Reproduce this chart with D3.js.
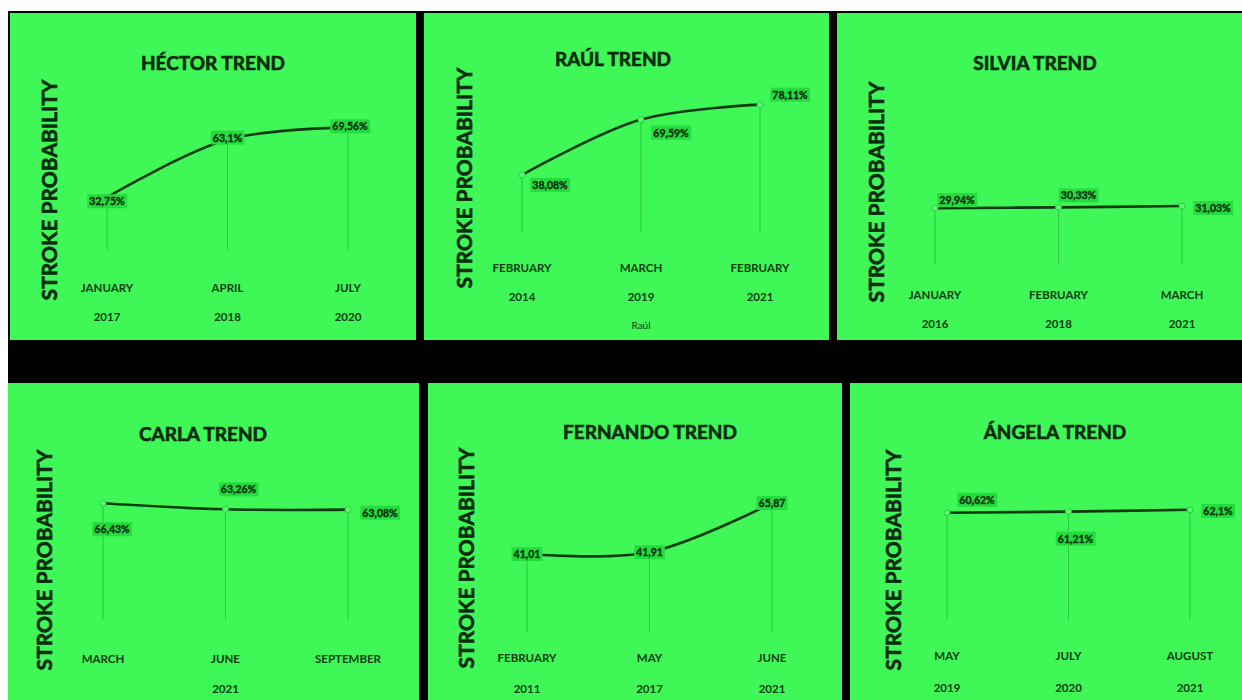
<!DOCTYPE html>
<html>
<head>
<meta charset="utf-8">
<script src="https://cdn.jsdelivr.net/npm/d3@7"></script>
<style>
  body { margin: 0; background: #fff; }
  svg { display: block; }
  .title { font-family: Lato, "Open Sans", sans-serif; font-weight: 700; font-size: 19px; fill: #082a0c; stroke: #082a0c; stroke-width: 0.6px; }
  .ytitle { font-family: Lato, "Open Sans", sans-serif; font-weight: 700; font-size: 21px; fill: #082a0c; stroke: #082a0c; stroke-width: 0.6px; }
  .tick { font-family: Lato, "Open Sans", sans-serif; font-weight: 700; font-size: 11.5px; fill: #0c3d12; }
  .val { font-family: Lato, "Open Sans", sans-serif; font-weight: 700; font-size: 10.5px; fill: #062a0a; stroke: #062a0a; stroke-width: 0.3px; }
  .axisname { font-family: Lato, "Open Sans", sans-serif; font-size: 10px; fill: #0c3d12; }
</style>
</head>
<body>
<svg id="chart" width="1242" height="700"></svg>
<script>
"use strict";
// data
const PEOPLE = ["HÉCTOR", "RAÚL", "SILVIA", "CARLA", "FERNANDO", "ÁNGELA"];
const Y_TITLE = "STROKE PROBABILITY";
const RAUL_AXIS_TITLE = "Raúl";

const hectorMonths = ["JANUARY", "APRIL", "JULY"];
const hectorYears = ["2017", "2018", "2020"];
const hectorValues = [32.75, 63.1, 69.56];

const raulMonths = ["FEBRUARY", "MARCH", "FEBRUARY"];
const raulYears = ["2014", "2019", "2021"];
const raulValues = [38.08, 69.59, 78.11];

const silviaMonths = ["JANUARY", "FEBRUARY", "MARCH"];
const silviaYears = ["2016", "2018", "2021"];
const silviaValues = [29.94, 30.33, 31.03];

const carlaMonths = ["MARCH", "JUNE", "SEPTEMBER"];
const carlaYears = ["2021"];
const carlaValues = [66.43, 63.26, 63.08];

const fernandoMonths = ["FEBRUARY", "MAY", "JUNE"];
const fernandoYears = ["2011", "2017", "2021"];
const fernandoValues = [41.01, 41.91, 65.87];

const angelaMonths = ["MAY", "JULY", "AUGUST"];
const angelaYears = ["2019", "2020", "2021"];
const angelaValues = [60.62, 61.21, 62.1];

// layout of each screenshot tile (local coords inside the green box)
const PANELS = [
  { name: PEOPLE[0], months: hectorMonths, years: hectorYears, values: hectorValues, suffix: "%",
    box: [10, 13, 406, 327], titleX: 203, titleY: 49, yTitleX: 38, yTitleY: 177,
    xRange: [97, 338], yDomain: [5, 95], yRange: [237, 66], monthY: 274, yearY: 303,
    labelOffsets: [[0, 4], [0, -2], [2, -1]] },
  { name: PEOPLE[1], months: raulMonths, years: raulYears, values: raulValues, suffix: "%",
    box: [424, 13, 405, 327], titleX: 189, titleY: 45, yTitleX: 39, yTitleY: 165,
    xRange: [98, 336], yDomain: [5, 95], yRange: [220, 62], monthY: 254, yearY: 283,
    labelOffsets: [[28, 10], [30, 13], [30, -10]], axisName: RAUL_AXIS_TITLE, axisNameY: 312 },
  { name: PEOPLE[2], months: silviaMonths, years: silviaYears, values: silviaValues, suffix: "%",
    box: [837, 13, 405, 327], titleX: 198, titleY: 49, yTitleX: 38, yTitleY: 179,
    xRange: [98, 345], yDomain: [0, 90], yRange: [252, 81], monthY: 281, yearY: 310,
    labelOffsets: [[22, -8], [20, -12], [31, 2]] },
  { name: PEOPLE[3], months: carlaMonths, years: carlaYears, values: carlaValues, suffix: "%",
    box: [8, 383, 411, 317], titleX: 195, titleY: 50, yTitleX: 35, yTitleY: 177,
    xRange: [95, 340], yDomain: [5, 95], yRange: [237, 66], monthY: 275, yearY: 305,
    labelOffsets: [[9, 26], [13, -20], [32, 3]] },
  { name: PEOPLE[4], months: fernandoMonths, years: fernandoYears, values: fernandoValues, suffix: "",
    box: [428, 383, 414, 317], titleX: 222, titleY: 48, yTitleX: 37, yTitleY: 175,
    xRange: [99, 344], yDomain: [2.5, 90], yRange: [250, 70.6], monthY: 274, yearY: 305,
    labelOffsets: [[0, 0], [0, 0], [0, 0]] },
  { name: PEOPLE[5], months: angelaMonths, years: angelaYears, values: angelaValues, suffix: "%",
    box: [850, 383, 392, 317], titleX: 205, titleY: 48, yTitleX: 42, yTitleY: 177,
    xRange: [97, 340], yDomain: [7, 95], yRange: [237, 61], monthY: 272, yearY: 304,
    labelOffsets: [[30, -13], [7, 27], [28, 1]] }
];

const GREEN = "#3ff757";
const svg = d3.select("#chart");

// black frame behind the tiles
svg.append("rect").attr("x", 8).attr("y", 11).attr("width", 1234).attr("height", 689).attr("fill", "#000");

const fmt = v => String(v).replace(".", ",");

PANELS.forEach(p => {
  const g = svg.append("g").attr("transform", `translate(${p.box[0]},${p.box[1]})`);
  g.append("rect").attr("width", p.box[2]).attr("height", p.box[3]).attr("fill", GREEN);

  const idx = p.values.map((v, i) => i);
  const x = d3.scalePoint().domain(idx).range(p.xRange);
  const y = d3.scaleLinear().domain(p.yDomain).range(p.yRange);
  const axisY = y(p.yDomain[0]);

  g.append("text").attr("class", "title")
    .attr("x", p.titleX).attr("y", p.titleY)
    .attr("text-anchor", "middle").attr("dominant-baseline", "central")
    .text(p.name + " TREND");

  g.append("text").attr("class", "ytitle")
    .attr("transform", `translate(${p.yTitleX},${p.yTitleY}) rotate(-90)`)
    .attr("text-anchor", "middle").attr("dominant-baseline", "central")
    .text(Y_TITLE);

  // drop lines
  g.selectAll("line.drop").data(p.values).enter().append("line")
    .attr("class", "drop")
    .attr("x1", (d, i) => x(i)).attr("x2", (d, i) => x(i))
    .attr("y1", d => y(d)).attr("y2", axisY)
    .attr("stroke", "#2bc840").attr("stroke-width", 1);

  // trend line
  const line = d3.line().x((d, i) => x(i)).y(d => y(d)).curve(d3.curveCatmullRom.alpha(0.5));
  g.append("path").datum(p.values)
    .attr("d", line).attr("fill", "none")
    .attr("stroke", "#0b3a10").attr("stroke-width", 2.6);

  g.selectAll("circle").data(p.values).enter().append("circle")
    .attr("cx", (d, i) => x(i)).attr("cy", d => y(d)).attr("r", 3)
    .attr("fill", "#55fb6a").attr("stroke", "#2ccf43").attr("stroke-width", 1);

  // category labels
  g.selectAll("text.month").data(p.months).enter().append("text")
    .attr("class", "tick month")
    .attr("x", (d, i) => x(i)).attr("y", p.monthY)
    .attr("text-anchor", "middle").attr("dominant-baseline", "central")
    .text(d => d);
  const yearPos = p.years.length === p.months.length
    ? (i => x(i))
    : (() => (p.xRange[0] + p.xRange[1]) / 2);
  g.selectAll("text.year").data(p.years).enter().append("text")
    .attr("class", "tick year")
    .attr("x", (d, i) => yearPos(i)).attr("y", p.yearY)
    .attr("text-anchor", "middle").attr("dominant-baseline", "central")
    .text(d => d);

  if (p.axisName) {
    g.append("text").attr("class", "axisname")
      .attr("x", (p.xRange[0] + p.xRange[1]) / 2).attr("y", p.axisNameY)
      .attr("text-anchor", "middle").attr("dominant-baseline", "central")
      .text(p.axisName);
  }

  // data labels with highlight box
  p.values.forEach((v, i) => {
    const off = p.labelOffsets[i];
    const lg = g.append("g").attr("transform", `translate(${x(i) + off[0]},${y(v) + off[1]})`);
    const box = lg.append("rect").attr("fill", "#24dc3e");
    const t = lg.append("text").attr("class", "val")
      .attr("text-anchor", "middle").attr("dominant-baseline", "central")
      .text(fmt(v) + p.suffix);
    const bb = t.node().getBBox();
    box.attr("x", bb.x - 2).attr("y", bb.y - 1).attr("width", bb.width + 4).attr("height", bb.height + 2);
  });
});
</script>
</body>
</html>
